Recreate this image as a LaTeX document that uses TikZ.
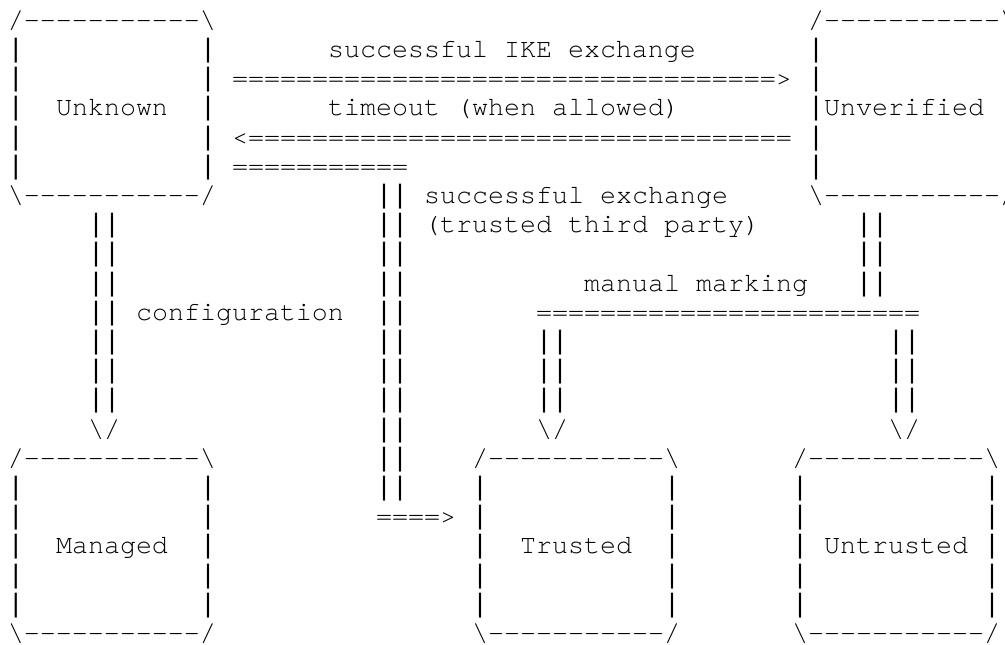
\documentclass[tikz,border=0pt]{standalone}
\usepackage{fontspec}
\setmonofont{texgyrecursor-regular.otf}[Ligatures=NoCommon]
\newfontfamily\barfont{Liberation Mono}
\newcommand{\bkslash}{\textbackslash}
\newcommand{\stick}{{\barfont|}}
\begin{document}
\begin{tikzpicture}[x=8pt,y=-14.6pt,font=\ttfamily\fontsize{13.333}{14.6}\selectfont,
		ascii/.style={anchor=base west,inner sep=0pt,outer sep=0pt}]
	\useasboundingbox (-0.5,-0.966) rectangle (62.3125,21.089);
	
	\foreach \n/\c/\r/\t/\l in {unknown/0/0/Unknown/3,unverified/50/0/Unverified/51,
		managed/0/15/Managed/3,trusted/29/15/Trusted/32,untrusted/49/15/Untrusted/51}{
		\node[ascii] (\n-top) at (\c,\r) {/-----------\bkslash};
		\foreach \i in {1,...,5}{
			\node[ascii] (\n-l\i) at (\c,\r+\i) {\stick};
			\node[ascii] (\n-r\i) at (\c+12,\r+\i) {\stick};
		}
		\node[ascii] (\n) at (\l,\r+3) {\t};
		\node[ascii] (\n-bot) at (\c,\r+6) {\bkslash-----------/};
	}
	
	\node[ascii] (ike) at (20,1) {successful IKE exchange};
	\node[ascii] (ike-arrow) at (14,2) {==================================>};
	\node[ascii] (timeout) at (20,3) {timeout (when allowed)};
	\node[ascii] (timeout-arrow) at (14,4) {<==================================};
	
	\node[ascii] (ttp-bar) at (14,5) {===========};
	\foreach \r in {6,...,16}
		\node[ascii] (ttp-\r) at (23,\r) {\stick\stick};
	\node[ascii] (ttp-arrow) at (23,17) {====>};
	\node[ascii] (ttp) at (26,6) {successful exchange};
	\node[ascii] (ttp-note) at (26,7) {(trusted third party)};
	
	\foreach \r in {7,...,13}
		\node[ascii] (conf-\r) at (5,\r) {\stick\stick};
	\node[ascii] (conf-head) at (5,14) {\bkslash/};
	\node[ascii] (conf) at (8,10) {configuration};
	
	\foreach \r in {7,8,9}
		\node[ascii] (mark-\r) at (53,\r) {\stick\stick};
	\node[ascii] (manual) at (36,9) {manual marking};
	\node[ascii] (mark-bar) at (33,10) {========================};
	\foreach \c in {33,55}{
		\foreach \r in {11,12,13}
			\node[ascii] (mark-\c-\r) at (\c,\r) {\stick\stick};
		\node[ascii] (mark-\c-head) at (\c,14) {\bkslash/};
	}
\end{tikzpicture}
\end{document}
